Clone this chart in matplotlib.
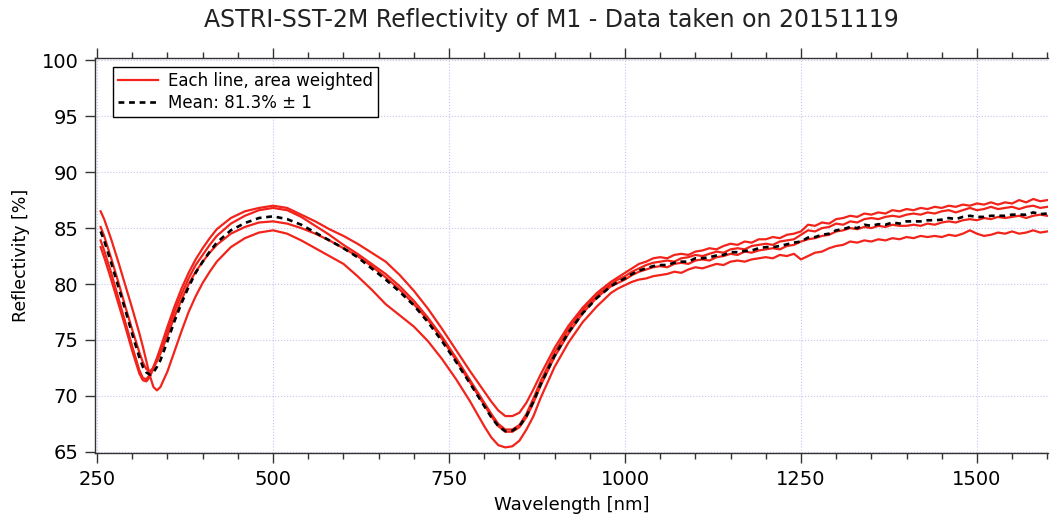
import matplotlib
matplotlib.use('Agg')
import matplotlib.pyplot as plt
from matplotlib.ticker import MultipleLocator
import numpy as np

# wavelength grid [nm]: coarse over the dips, 10 nm steps over the noisy tail
wl_short = [255, 260, 270, 280, 290, 300, 310, 315, 320, 325, 330, 335, 340,
            350, 360, 370, 380, 390, 400, 410, 420, 440, 460, 480, 500, 520,
            540, 560, 580, 600, 620, 640, 660, 680, 700, 720, 740, 760, 780,
            800, 810, 820, 830, 840, 850, 860, 870, 880, 900, 920, 940, 960,
            980, 990]
wl_long = list(range(1000, 1601, 10))

# reflectivity [%] of the four lines (short part)
line1_short = [83.3, 82.4, 80.4, 78.3, 76.2, 74.0, 72.0, 71.4, 71.3, 71.7, 72.5, 73.4, 74.3,
               76.2, 78.0, 79.6, 81.0, 82.2, 83.2, 84.1, 84.9, 85.9, 86.5, 86.8, 87.0, 86.8,
               86.2, 85.6, 84.9, 84.3, 83.6, 82.8, 82.0, 80.8, 79.4, 77.8, 76.0, 74.1, 72.2,
               70.4, 69.5, 68.7, 68.2, 68.2, 68.5, 69.4, 70.6, 71.9, 74.3, 76.3, 77.9, 79.2,
               80.2, 80.6]
line2_short = [83.9, 83.0, 81.0, 78.8, 76.6, 74.4, 72.3, 71.6, 71.5, 71.9, 72.6, 73.3, 74.0,
               75.8, 77.6, 79.1, 80.5, 81.7, 82.6, 83.5, 84.3, 85.4, 86.1, 86.6, 86.8, 86.6,
               86.0, 85.2, 84.4, 83.5, 82.7, 81.8, 80.9, 79.8, 78.5, 77.0, 75.3, 73.4, 71.4,
               69.4, 68.4, 67.5, 67.0, 67.0, 67.4, 68.4, 69.8, 71.3, 73.9, 76.0, 77.7, 79.0,
               80.0, 80.4]
line3_short = [85.1, 84.3, 82.3, 80.2, 78.0, 75.9, 73.9, 73.0, 72.4, 72.2, 72.5, 73.1, 73.8,
               75.4, 77.1, 78.6, 80.0, 81.1, 82.0, 82.8, 83.5, 84.5, 85.1, 85.5, 85.6, 85.4,
               85.0, 84.5, 83.9, 83.2, 82.5, 81.6, 80.6, 79.5, 78.2, 76.8, 75.1, 73.2, 71.2,
               69.2, 68.2, 67.3, 66.8, 66.8, 67.2, 68.1, 69.4, 70.9, 73.5, 75.6, 77.4, 78.8,
               79.8, 80.1]
line4_short = [86.5, 85.8, 84.0, 82.0, 79.9, 77.8, 75.6, 74.4, 73.1, 71.8, 70.8, 70.5, 70.8,
               72.2, 74.0, 75.8, 77.5, 78.9, 80.1, 81.1, 82.0, 83.3, 84.1, 84.6, 84.8, 84.5,
               83.9, 83.2, 82.5, 81.8, 80.7, 79.5, 78.2, 77.2, 76.2, 74.9, 73.3, 71.5, 69.5,
               67.3, 66.3, 65.6, 65.4, 65.5, 66.0, 67.0, 68.2, 69.8, 72.6, 74.8, 76.6, 78.0,
               79.2, 79.6]
mean_short = [84.7, 83.9, 81.9, 79.8, 77.7, 75.5, 73.45, 72.6, 72.1, 71.9, 72.1, 72.6, 73.2,
              74.9, 76.7, 78.3, 79.75, 81.0, 82.0, 82.9, 83.7, 84.8, 85.45, 85.9, 86.05, 85.8,
              85.3, 84.6, 83.9, 83.2, 82.4, 81.4, 80.4, 79.3, 78.1, 76.6, 74.9, 73.05, 71.1,
              69.1, 68.1, 67.3, 66.85, 66.9, 67.3, 68.2, 69.5, 71.0, 73.6, 75.7, 77.4, 78.75,
              79.8, 80.2]

# long part, 1000-1600 nm
line1_long = [81.0, 81.4, 81.8, 82.0, 82.3, 82.4, 82.3, 82.6, 82.7, 82.6,
              82.9, 83.0, 83.2, 83.1, 83.4, 83.6, 83.5, 83.8, 83.7, 84.0,
              84.0, 84.2, 84.1, 84.4, 84.5, 84.7, 85.3, 85.2, 85.5, 85.4,
              85.8, 85.9, 86.1, 86.0, 86.3, 86.2, 86.4, 86.3, 86.6, 86.5,
              86.7, 86.6, 86.8, 86.7, 86.9, 86.8, 87.0, 86.9, 87.1, 87.0,
              87.2, 87.1, 87.3, 87.1, 87.3, 87.2, 87.5, 87.3, 87.6, 87.4,
              87.5]
line2_long = [80.7, 81.1, 81.4, 81.7, 81.9, 82.0, 82.1, 82.0, 82.3, 82.4,
              82.6, 82.5, 82.7, 82.9, 82.8, 83.1, 83.2, 83.1, 83.4, 83.5,
              83.6, 83.5, 83.8, 83.9, 84.0, 84.4, 84.8, 84.7, 85.0, 85.1,
              85.4, 85.3, 85.6, 85.5, 85.8, 85.9, 85.8, 86.0, 86.1, 86.0,
              86.2, 86.3, 86.2, 86.4, 86.3, 86.5, 86.6, 86.4, 86.6, 86.8,
              86.6, 86.7, 86.9, 86.7, 86.8, 86.9, 86.7, 86.9, 87.0, 86.8,
              86.9]
line3_long = [80.4, 80.8, 81.1, 81.3, 81.5, 81.6, 81.5, 81.8, 81.9, 81.8,
              82.1, 82.2, 82.1, 82.4, 82.5, 82.7, 82.6, 82.9, 82.8, 83.0,
              83.1, 83.2, 83.1, 83.4, 83.5, 83.8, 84.0, 84.1, 84.3, 84.4,
              84.7, 84.8, 85.0, 84.9, 85.1, 85.0, 85.2, 85.1, 85.3, 85.2,
              85.2, 85.3, 85.2, 85.4, 85.3, 85.5, 85.6, 85.5, 85.7, 85.8,
              85.7, 85.9, 85.8, 86.0, 85.9, 86.0, 86.1, 85.9, 86.1, 86.2,
              86.1]
line4_long = [79.9, 80.2, 80.4, 80.5, 80.7, 80.8, 80.9, 81.1, 81.0, 81.3,
              81.5, 81.4, 81.6, 81.8, 81.7, 82.0, 82.1, 82.0, 82.2, 82.3,
              82.4, 82.3, 82.6, 82.5, 82.7, 82.2, 82.5, 82.8, 82.9, 83.2,
              83.4, 83.5, 83.8, 83.7, 83.9, 83.8, 84.0, 83.9, 84.1, 84.0,
              84.2, 84.1, 84.3, 84.2, 84.3, 84.2, 84.4, 84.3, 84.5, 84.8,
              84.5, 84.3, 84.4, 84.6, 84.5, 84.7, 84.5, 84.6, 84.8, 84.6,
              84.7]
mean_long = [80.5, 80.9, 81.2, 81.4, 81.6, 81.7, 81.7, 81.9, 82.0, 82.0,
             82.3, 82.3, 82.4, 82.55, 82.6, 82.85, 82.85, 82.95, 83.0, 83.2,
             83.3, 83.3, 83.4, 83.55, 83.7, 83.8, 84.15, 84.2, 84.4, 84.5,
             84.8, 84.9, 85.1, 85.0, 85.3, 85.2, 85.35, 85.3, 85.5, 85.4,
             85.6, 85.6, 85.6, 85.7, 85.7, 85.75, 85.9, 85.8, 86.0, 86.1,
             86.0, 86.0, 86.1, 86.1, 86.1, 86.2, 86.2, 86.2, 86.4, 86.25,
             86.3]

wl = np.array(wl_short + wl_long)
lines = [line1_short + line1_long, line2_short + line2_long,
         line3_short + line3_long, line4_short + line4_long]
mean = mean_short + mean_long

fig = plt.figure(figsize=(10.5, 5.17), dpi=100)
ax = fig.add_axes([95 / 1050, 64 / 517, 953 / 1050, 395 / 517])

red = '#f2231a'
for i, refl in enumerate(lines):
    ax.plot(wl, refl, color=red, lw=1.6,
            label='Each line, area weighted' if i == 0 else None)
ax.plot(wl, mean, color='black', lw=1.9, ls=(0, (2.2, 1.8)),
        label='Mean: 81.3% \u00b1 1')

ax.set_xlim(247, 1601)
ax.set_ylim(64.9, 100.2)
ax.xaxis.set_major_locator(MultipleLocator(250))
ax.xaxis.set_minor_locator(MultipleLocator(50))
ax.yaxis.set_major_locator(MultipleLocator(5))
ax.tick_params(axis='x', which='both', direction='out', top=True,
               labeltop=False, color='#333333', labelsize=14, pad=5)
ax.tick_params(axis='x', which='major', length=7, width=1)
ax.tick_params(axis='x', which='minor', length=4, width=1)
ax.tick_params(axis='y', which='major', direction='out', length=7, width=1,
               color='#333333', labelsize=14, pad=5)
ax.grid(which='major', color='#c6c6ee', ls=':', lw=0.8)
ax.set_axisbelow(True)
for side in ['left', 'top', 'bottom']:
    ax.spines[side].set_color('#333333')
    ax.spines[side].set_linewidth(1.0)
ax.spines['right'].set_visible(False)

leg = ax.legend(loc='upper left', bbox_to_anchor=(0.019, 0.977),
                borderaxespad=0, fontsize=12, handlelength=2.4,
                fancybox=False, framealpha=1, edgecolor='black',
                borderpad=0.3, labelspacing=0.25, handletextpad=0.6)
leg.get_frame().set_linewidth(1.0)

fig.text(0.525, 0.962, 'ASTRI-SST-2M Reflectivity of M1 - Data taken on 20151119',
         ha='center', va='center', fontsize=17, color='#222222')
ax.set_xlabel('Wavelength [nm]', fontsize=13, labelpad=5)
ax.set_ylabel('Reflectivity [%]', fontsize=12.5, labelpad=8)

fig.savefig('out.png', dpi=100)
